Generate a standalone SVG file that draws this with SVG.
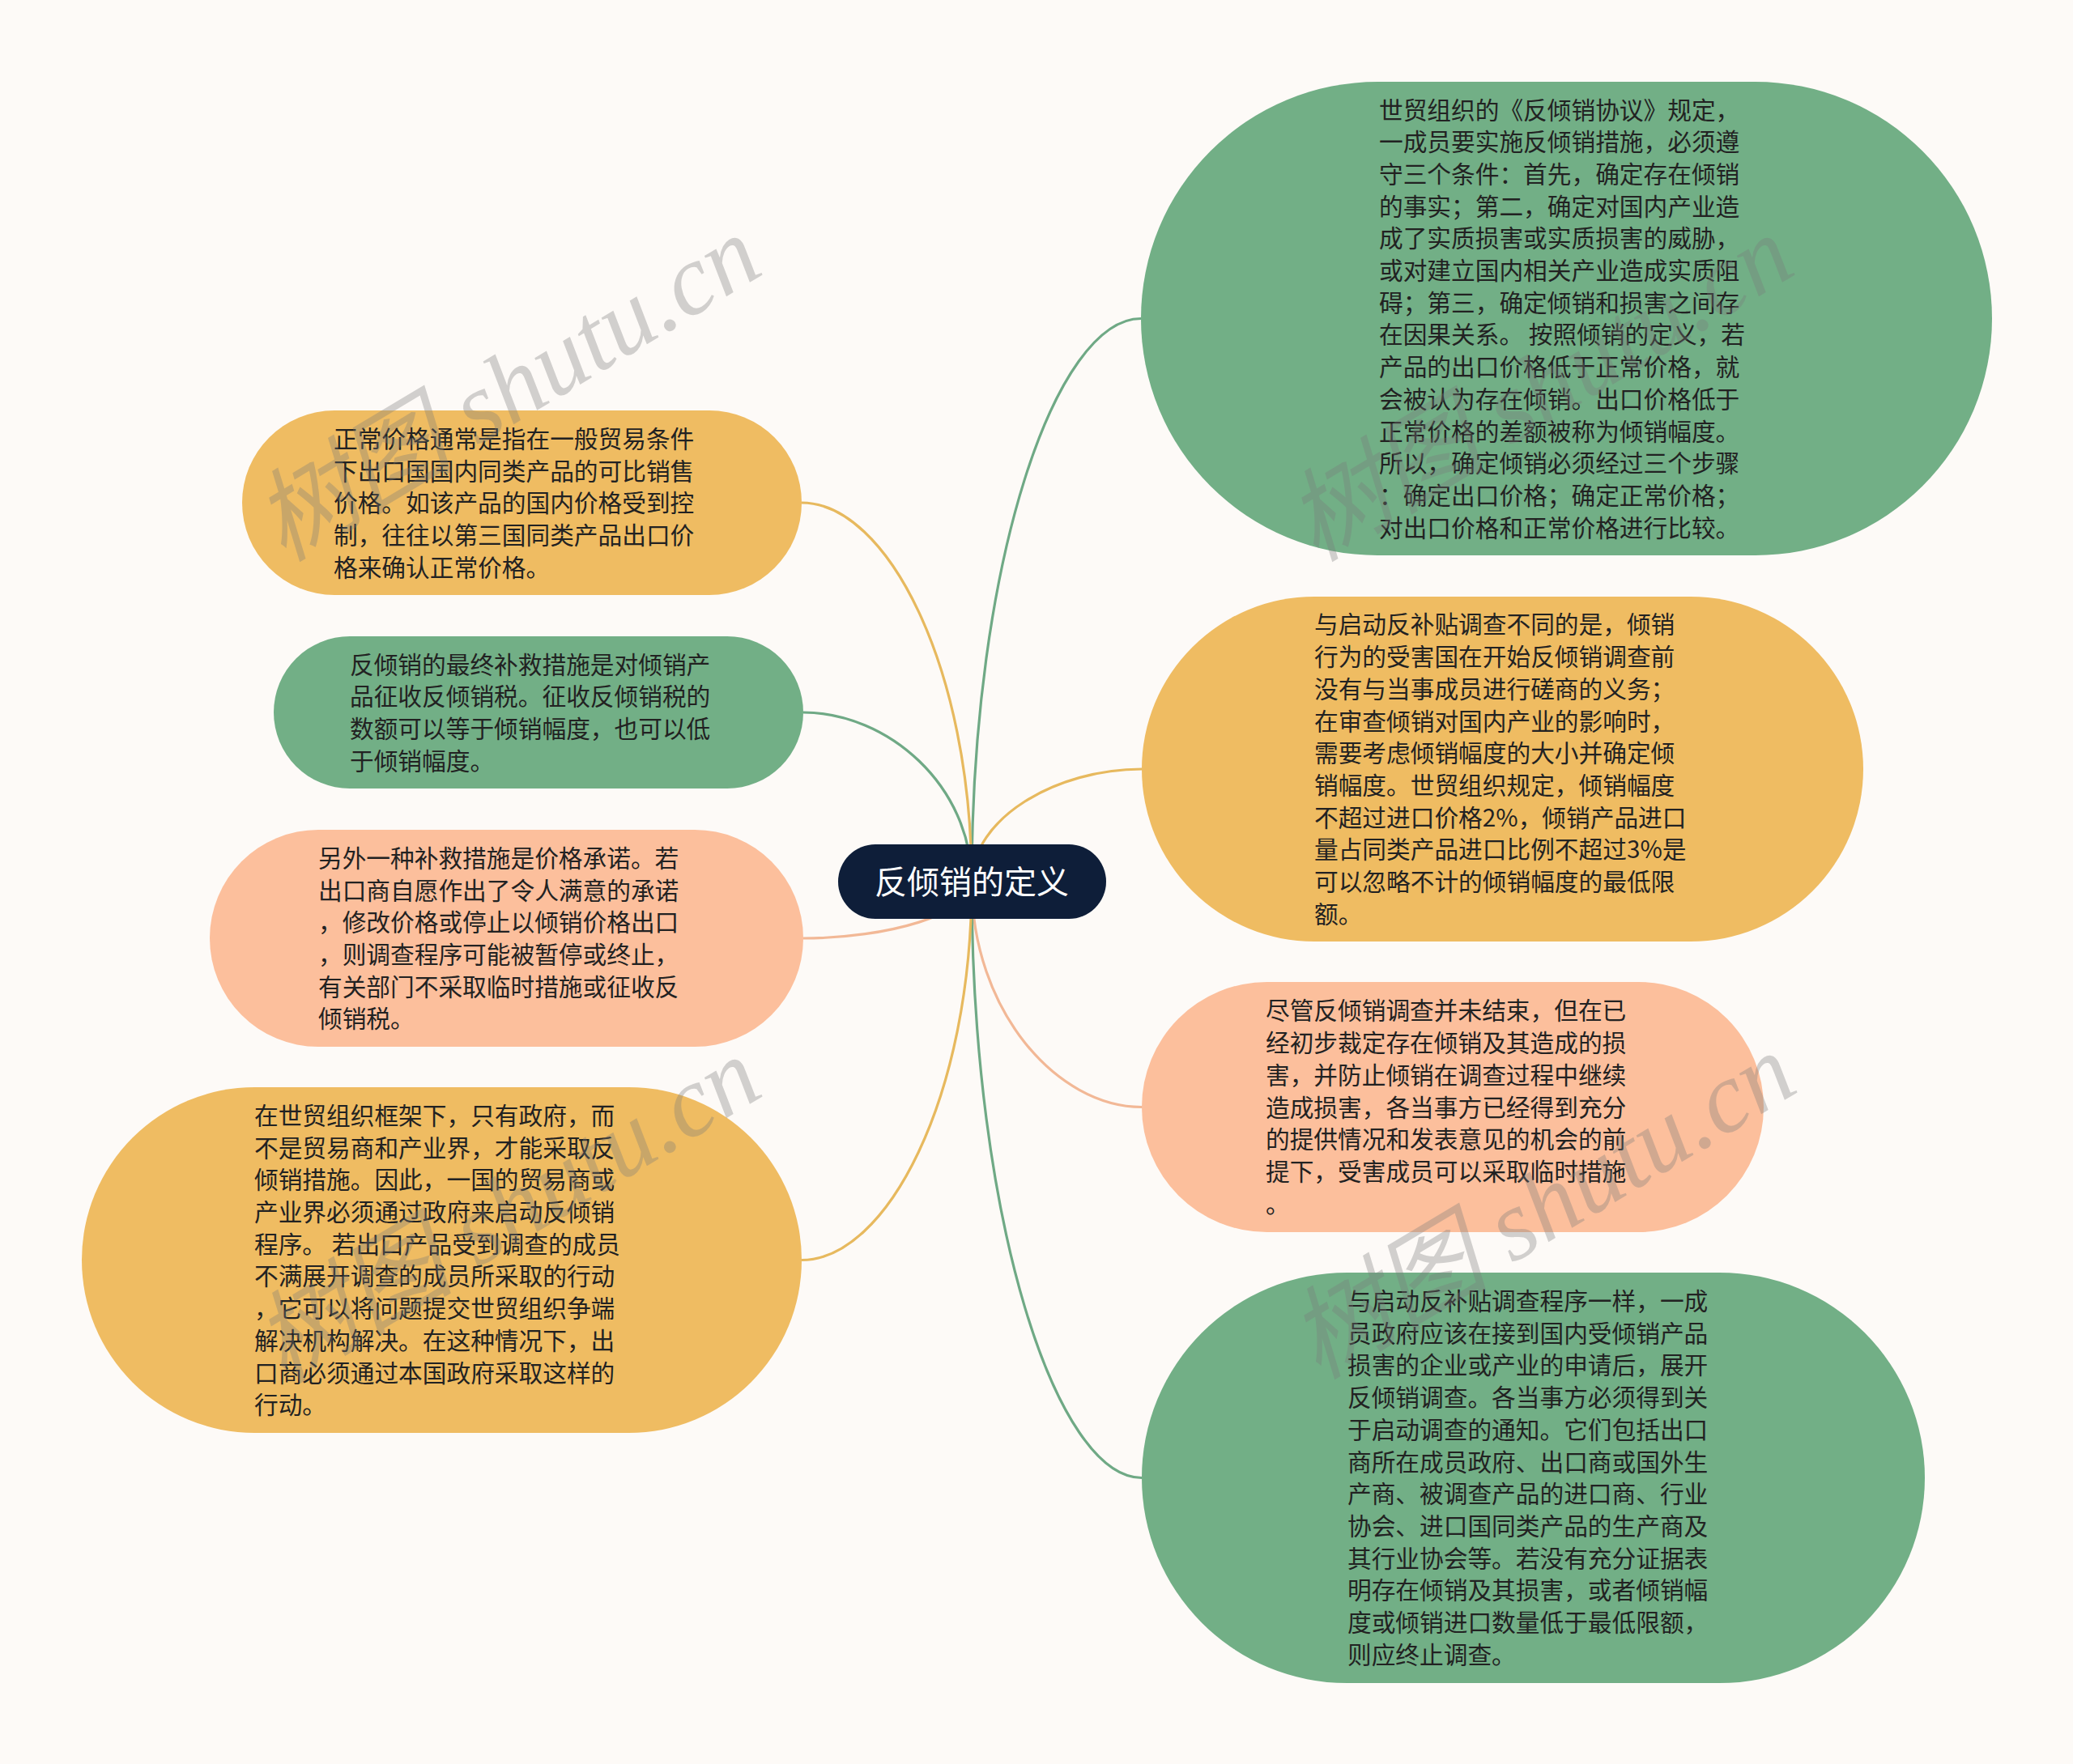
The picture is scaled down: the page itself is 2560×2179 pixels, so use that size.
<svg xmlns="http://www.w3.org/2000/svg" width="2560" height="2179" viewBox="0 0 2560 2179">
<style>
.bg{fill:#FDFAF7}
.green{fill:#72AF86}
.orange{fill:#EFBC62}
.peach{fill:#FCBF9C}
.t{font-family:"Noto Sans CJK SC","Noto Sans",sans-serif;font-size:29.7px;fill:#222222}
.ct{font-family:"Noto Sans CJK SC","Noto Sans",sans-serif;font-size:40px;fill:#ffffff;text-anchor:middle}
.ln{fill:none;stroke-width:3.2}
.lg{stroke:#6FA985}
.lo{stroke:#E7B95E}
.lp{stroke:#F2B896}
.wm{font-family:"Liberation Serif","Noto Sans CJK SC",serif;font-style:italic;font-size:124px;fill:#7a7a7a;opacity:0.33}
</style>
<rect class="bg" x="0" y="0" width="2560" height="2179"/>
<g id="connectors">
<path class="ln lg" d="M1200 1090 C1200 693 1304 393.5 1409 393.5"/>
<path class="ln lo" d="M1200 1090 C1200 1010 1305 950 1410 950"/>
<path class="ln lp" d="M1200 1090 C1200 1248 1305 1367.5 1410 1367.5"/>
<path class="ln lg" d="M1200 1090 C1200 1509 1305 1825.5 1410 1825.5"/>
<path class="ln lo" d="M1200 1090 C1200 823 1095 621 990 621"/>
<path class="ln lg" d="M1200 1090 C1200 970 1096 880 992 880"/>
<path class="ln lp" d="M1200 1090 C1200 1129 1096 1159 992 1159"/>
<path class="ln lo" d="M1200 1090 C1200 1356 1095 1556.5 990 1556.5"/>
</g>
<g id="center">
<rect x="1035" y="1043" width="331" height="92" rx="46" fill="#0E1E39"/>
<text class="ct" x="1200" y="1104">反倾销的定义</text>
</g>
<g id="node-a">
<rect class="orange" x="299" y="507" width="691" height="228" rx="114"/>
<text class="t"><tspan x="412" y="553">正常价格通常是指在一般贸易条件</tspan><tspan x="412" y="592.7">下出口国国内同类产品的可比销售</tspan><tspan x="412" y="632.4">价格。如该产品的国内价格受到控</tspan><tspan x="412" y="672.1">制，往往以第三国同类产品出口价</tspan><tspan x="412" y="711.8">格来确认正常价格。</tspan></text>
</g>
<g id="node-b">
<rect class="green" x="338" y="786" width="654" height="188" rx="94"/>
<text class="t"><tspan x="432" y="831.5">反倾销的最终补救措施是对倾销产</tspan><tspan x="432" y="871.2">品征收反倾销税。征收反倾销税的</tspan><tspan x="432" y="910.9">数额可以等于倾销幅度，也可以低</tspan><tspan x="432" y="950.6">于倾销幅度。</tspan></text>
</g>
<g id="node-c">
<rect class="peach" x="259" y="1025" width="733" height="268" rx="134"/>
<text class="t"><tspan x="393" y="1070.8">另外一种补救措施是价格承诺。若</tspan><tspan x="393" y="1110.5">出口商自愿作出了令人满意的承诺</tspan><tspan x="393" y="1150.2">，修改价格或停止以倾销价格出口</tspan><tspan x="393" y="1189.9">，则调查程序可能被暂停或终止，</tspan><tspan x="393" y="1229.6">有关部门不采取临时措施或征收反</tspan><tspan x="393" y="1269.3">倾销税。</tspan></text>
</g>
<g id="node-d">
<rect class="orange" x="101" y="1343" width="889" height="427" rx="213.5"/>
<text class="t"><tspan x="314" y="1388.9">在世贸组织框架下，只有政府，而</tspan><tspan x="314" y="1428.6">不是贸易商和产业界，才能采取反</tspan><tspan x="314" y="1468.3">倾销措施。因此，一国的贸易商或</tspan><tspan x="314" y="1508">产业界必须通过政府来启动反倾销</tspan><tspan x="314" y="1547.7">程序。 若出口产品受到调查的成员</tspan><tspan x="314" y="1587.4">不满展开调查的成员所采取的行动</tspan><tspan x="314" y="1627.1">，它可以将问题提交世贸组织争端</tspan><tspan x="314" y="1666.8">解决机构解决。在这种情况下，出</tspan><tspan x="314" y="1706.5">口商必须通过本国政府采取这样的</tspan><tspan x="314" y="1746.2">行动。</tspan></text>
</g>
<g id="node-e">
<rect class="green" x="1409" y="101" width="1051" height="585" rx="292.5"/>
<text class="t"><tspan x="1703" y="146.5">世贸组织的《反倾销协议》规定，</tspan><tspan x="1703" y="186.2">一成员要实施反倾销措施，必须遵</tspan><tspan x="1703" y="225.9">守三个条件：首先，确定存在倾销</tspan><tspan x="1703" y="265.6">的事实；第二，确定对国内产业造</tspan><tspan x="1703" y="305.3">成了实质损害或实质损害的威胁，</tspan><tspan x="1703" y="345">或对建立国内相关产业造成实质阻</tspan><tspan x="1703" y="384.7">碍；第三，确定倾销和损害之间存</tspan><tspan x="1703" y="424.4">在因果关系。 按照倾销的定义，若</tspan><tspan x="1703" y="464.1">产品的出口价格低于正常价格，就</tspan><tspan x="1703" y="503.8">会被认为存在倾销。出口价格低于</tspan><tspan x="1703" y="543.5">正常价格的差额被称为倾销幅度。</tspan><tspan x="1703" y="583.2">所以，确定倾销必须经过三个步骤</tspan><tspan x="1703" y="622.9">：确定出口价格；确定正常价格；</tspan><tspan x="1703" y="662.6">对出口价格和正常价格进行比较。</tspan></text>
</g>
<g id="node-f">
<rect class="orange" x="1410" y="737" width="891" height="426" rx="213"/>
<text class="t"><tspan x="1623" y="782.4">与启动反补贴调查不同的是，倾销</tspan><tspan x="1623" y="822.1">行为的受害国在开始反倾销调查前</tspan><tspan x="1623" y="861.8">没有与当事成员进行磋商的义务；</tspan><tspan x="1623" y="901.5">在审查倾销对国内产业的影响时，</tspan><tspan x="1623" y="941.2">需要考虑倾销幅度的大小并确定倾</tspan><tspan x="1623" y="980.9">销幅度。世贸组织规定，倾销幅度</tspan><tspan x="1623" y="1020.6">不超过进口价格2%，倾销产品进口</tspan><tspan x="1623" y="1060.3">量占同类产品进口比例不超过3%是</tspan><tspan x="1623" y="1100">可以忽略不计的倾销幅度的最低限</tspan><tspan x="1623" y="1139.7">额。</tspan></text>
</g>
<g id="node-g">
<rect class="peach" x="1410" y="1213" width="768" height="309" rx="154.5"/>
<text class="t"><tspan x="1563" y="1259.4">尽管反倾销调查并未结束，但在已</tspan><tspan x="1563" y="1299.1">经初步裁定存在倾销及其造成的损</tspan><tspan x="1563" y="1338.8">害，并防止倾销在调查过程中继续</tspan><tspan x="1563" y="1378.5">造成损害，各当事方已经得到充分</tspan><tspan x="1563" y="1418.2">的提供情况和发表意见的机会的前</tspan><tspan x="1563" y="1457.9">提下，受害成员可以采取临时措施</tspan><tspan x="1563" y="1497.6">。</tspan></text>
</g>
<g id="node-h">
<rect class="green" x="1410" y="1572" width="967" height="507" rx="253.5"/>
<text class="t"><tspan x="1664" y="1618">与启动反补贴调查程序一样，一成</tspan><tspan x="1664" y="1657.7">员政府应该在接到国内受倾销产品</tspan><tspan x="1664" y="1697.4">损害的企业或产业的申请后，展开</tspan><tspan x="1664" y="1737.1">反倾销调查。各当事方必须得到关</tspan><tspan x="1664" y="1776.8">于启动调查的通知。它们包括出口</tspan><tspan x="1664" y="1816.5">商所在成员政府、出口商或国外生</tspan><tspan x="1664" y="1856.2">产商、被调查产品的进口商、行业</tspan><tspan x="1664" y="1895.9">协会、进口国同类产品的生产商及</tspan><tspan x="1664" y="1935.6">其行业协会等。若没有充分证据表</tspan><tspan x="1664" y="1975.3">明存在倾销及其损害，或者倾销幅</tspan><tspan x="1664" y="2015">度或倾销进口数量低于最低限额，</tspan><tspan x="1664" y="2054.7">则应终止调查。</tspan></text>
</g>
<g id="watermarks">
<text class="wm" transform="translate(350 695) rotate(-31)">树图 shutu.cn</text>
<text class="wm" transform="translate(1625 695) rotate(-31)">树图 shutu.cn</text>
<text class="wm" transform="translate(350 1710) rotate(-31)">树图 shutu.cn</text>
<text class="wm" transform="translate(1628 1705) rotate(-31)">树图 shutu.cn</text>
</g>
</svg>
